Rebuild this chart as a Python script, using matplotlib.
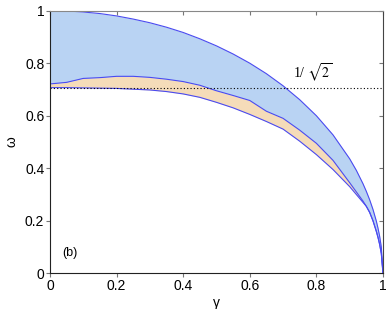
import numpy as np
import matplotlib.pyplot as plt
from matplotlib.ticker import FuncFormatter

plt.rcParams['font.family'] = ['Liberation Sans', 'DejaVu Sans']
plt.rcParams['mathtext.fontset'] = 'stix'

# ── data ─────────────────────────────────────────────────────────────────────
gamma = [0.0, 0.05, 0.1, 0.15, 0.2, 0.25, 0.3, 0.35, 0.4, 0.45, 0.5, 0.55,
         0.6, 0.65, 0.7, 0.75, 0.8, 0.85, 0.9, 0.92, 0.94, 0.95, 0.96, 0.97,
         0.98, 0.985, 0.99, 0.995, 1.0]
omega_upper = [1.0, 0.999, 0.995, 0.989, 0.980, 0.968, 0.954, 0.937, 0.917,
               0.893, 0.866, 0.835, 0.800, 0.760, 0.714, 0.661, 0.600, 0.527,
               0.436, 0.392, 0.341, 0.312, 0.280, 0.243, 0.199, 0.172, 0.141,
               0.100, 0.0]
omega_middle = [0.721, 0.727, 0.742, 0.745, 0.750, 0.750, 0.746, 0.739, 0.730,
                0.716, 0.695, 0.677, 0.658, 0.617, 0.590, 0.545, 0.495, 0.430,
                0.345, 0.310, 0.275, 0.255, 0.232, 0.200, 0.160, 0.137, 0.110,
                0.075, 0.0]
omega_lower = [0.707, 0.707, 0.706, 0.705, 0.704, 0.701, 0.698, 0.692, 0.683,
               0.670, 0.651, 0.630, 0.605, 0.578, 0.549, 0.503, 0.452, 0.395,
               0.330, 0.300, 0.270, 0.255, 0.232, 0.200, 0.160, 0.137, 0.110,
               0.075, 0.0]
inv_sqrt2 = 1 / np.sqrt(2)

g = np.array(gamma)
up = np.array(omega_upper)
mid = np.array(omega_middle)
low = np.array(omega_lower)

fig = plt.figure(figsize=(3.9, 3.09), dpi=100)
ax = fig.add_axes([0.128, 0.1155, 0.854, 0.85])

ax.fill_between(g, mid, up, color="#b9d3f3", linewidth=0)
ax.fill_between(g, low, mid, color="#f5dcb9", linewidth=0)
line_kw = dict(color="#4a4af0", linewidth=0.8)
ax.plot(g, up, **line_kw)
ax.plot(g, mid, **line_kw)
ax.plot(g, low, **line_kw)

ax.plot([0, 1], [inv_sqrt2, inv_sqrt2], color="black", linestyle=(0, (1, 2)),
        linewidth=0.8)
ax.text(0.79, 0.763, r"1/ $\sqrt{2}$", fontsize=10, family="Liberation Serif",
        ha="center", va="center")
ax.text(0.06, 0.077, "(b)", fontsize=9, ha="center", va="center")

ax.set_xlim(0, 1)
ax.set_ylim(0, 1)
ticks = [0, 0.2, 0.4, 0.6, 0.8, 1]
ax.set_xticks(ticks)
ax.set_yticks(ticks)
fmt = FuncFormatter(lambda v, p: f"{v:g}")
ax.xaxis.set_major_formatter(fmt)
ax.yaxis.set_major_formatter(fmt)
ax.tick_params(axis="both", which="major", labelsize=10, length=3, width=0.8,
               direction="out", color="#777777")
ax.tick_params(axis="x", top=True, pad=1)
ax.tick_params(axis="y", right=True, pad=1)
# top/right ticks point inward
for t in ax.xaxis.get_major_ticks():
    t.tick2line.set_marker(3)
for t in ax.yaxis.get_major_ticks():
    t.tick2line.set_marker(0)

for side in ["left", "bottom"]:
    ax.spines[side].set_color("#222222")
ax.spines["top"].set_color("#888888")
ax.spines["right"].set_color("#444444")

ax.set_xlabel("γ", fontsize=10, labelpad=2)
ax.set_ylabel("ω", fontsize=10)
ax.yaxis.set_label_coords(-0.095, 0.5)

fig.savefig("out.png", dpi=100)
